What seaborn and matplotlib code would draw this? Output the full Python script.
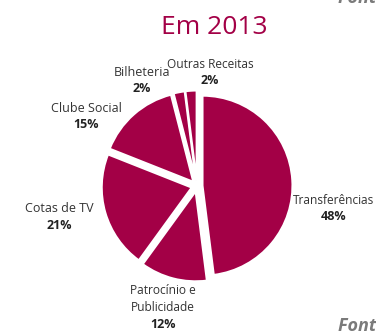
import matplotlib
matplotlib.use("Agg")
import matplotlib.pyplot as plt
import seaborn as sns

# Revenue breakdown, clockwise from 12 o'clock
categories = ["Transferências", "Patrocínio e\nPublicidade", "Cotas de TV",
              "Clube Social", "Bilheteria", "Outras Receitas"]
shares = [48, 12, 21, 15, 2, 2]
title = "Em 2013"
source_label = "Fonte: Relatórios financeiros"

sns.set_theme(style="white")
plt.rcParams["font.family"] = ["Open Sans", "DejaVu Sans"]

crimson = "#A30046"
W, H = 376, 334
fig = plt.figure(figsize=(W / 100, H / 100), dpi=100)
ax = fig.add_axes([0, 0, 1, 1])

# axes in pixel units, y pointing up
cx, cy, R = 197, H - 186, 90
ax.pie(shares, startangle=90, counterclock=False,
       colors=[crimson] * len(shares),
       explode=[5.5] * len(shares),
       center=(cx, cy), radius=R, frame=True,
       wedgeprops=dict(edgecolor="white", linewidth=1.5))
ax.set_xlim(0, W)
ax.set_ylim(0, H)
ax.set_aspect("equal")
ax.axis("off")

# label anchor points (name centre)
label_pos = [(334, 200), (163, 299), (59, 209), (86, 108), (142, 72), (210, 64)]
for name, val, (lx, ly) in zip(categories, shares, label_pos):
    nlines = name.count("\n") + 1
    ax.text(lx, H - ly, name, ha="center", va="center",
            fontsize=8.6 if len(name) > 13 else 9,
            color="#333333", linespacing=1.45)
    ax.text(lx, H - ly - 8.5 * (nlines - 1) - 16.5, f"{val}%", ha="center",
            va="center", fontsize=9, fontweight="bold", color="#222222")

ax.text(214, H - 27, title, ha="center", va="center", fontsize=19, color=crimson)

ax.text(338, H + 2, source_label, ha="left", va="center", fontsize=13,
        fontstyle="italic", fontweight="bold", color="#7a7a7a")
ax.text(338, H - 326, source_label, ha="left", va="center", fontsize=13,
        fontstyle="italic", fontweight="bold", color="#7a7a7a")

fig.savefig("out.png", dpi=100, facecolor="white")
